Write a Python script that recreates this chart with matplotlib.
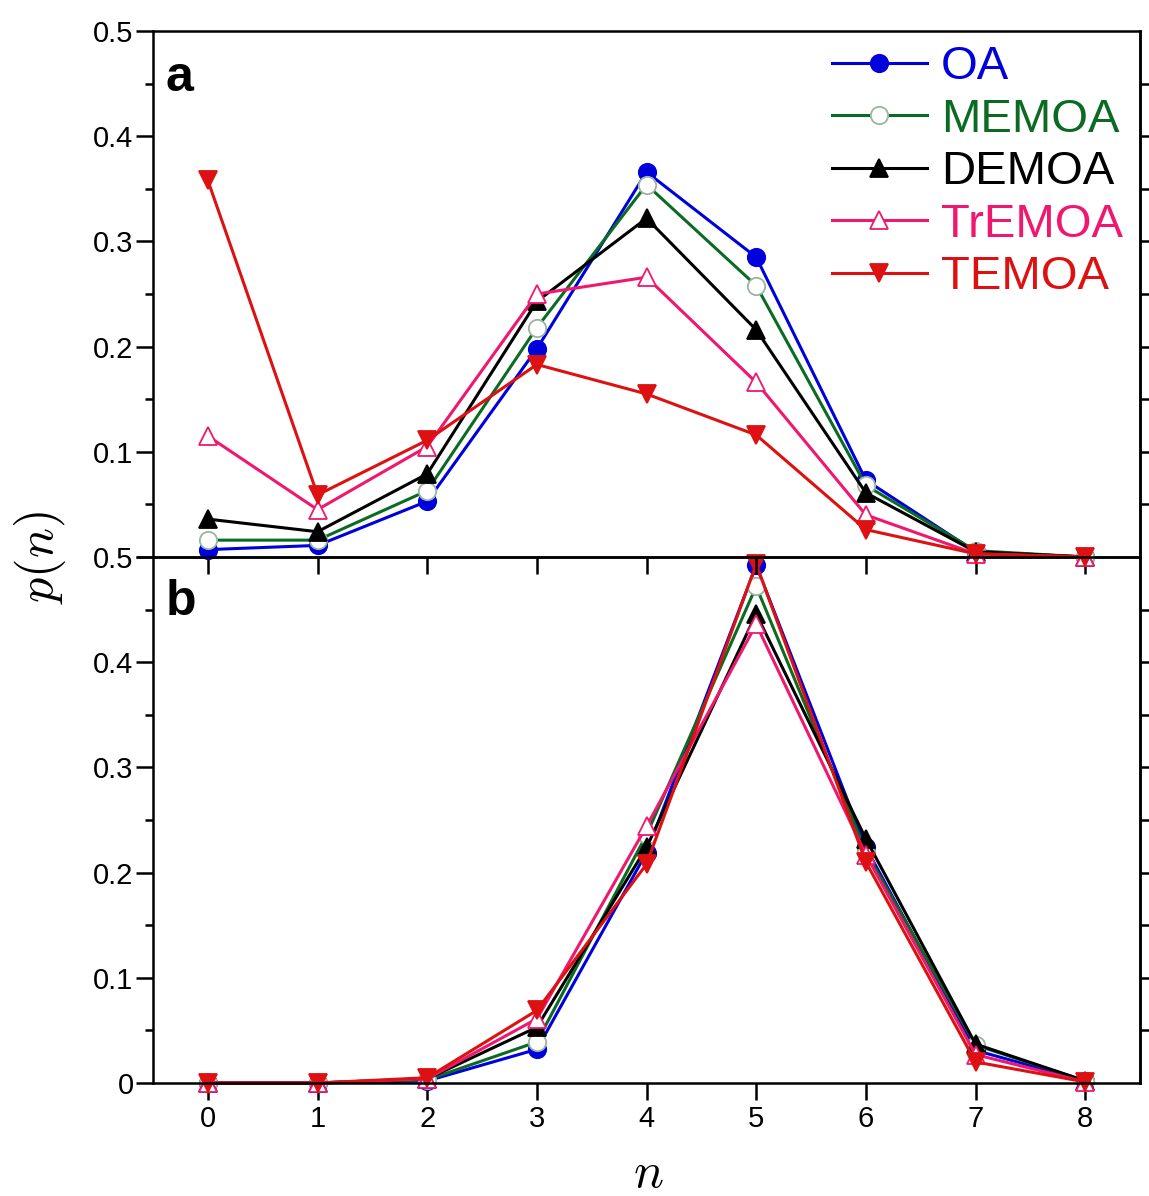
import numpy as np
import matplotlib
matplotlib.use('Agg')
import matplotlib.pyplot as plt

plt.rcParams['font.family'] = ['Liberation Sans', 'DejaVu Sans']
plt.rcParams['mathtext.fontset'] = 'cm'

n = [0, 1, 2, 3, 4, 5, 6, 7, 8]
labels = ['OA', 'MEMOA', 'DEMOA', 'TrEMOA', 'TEMOA']

# panel a
oa_a = [0.007, 0.011, 0.053, 0.198, 0.366, 0.285, 0.073, 0.005, 0.0]
memoa_a = [0.016, 0.016, 0.063, 0.218, 0.354, 0.258, 0.068, 0.006, 0.0]
demoa_a = [0.036, 0.024, 0.079, 0.243, 0.322, 0.216, 0.061, 0.005, 0.0]
tremoa_a = [0.115, 0.045, 0.105, 0.250, 0.266, 0.166, 0.040, 0.003, 0.0]
temoa_a = [0.358, 0.059, 0.111, 0.183, 0.155, 0.116, 0.026, 0.003, 0.0]

# panel b
oa_b = [0.0, 0.0, 0.002, 0.032, 0.219, 0.492, 0.224, 0.031, 0.002]
memoa_b = [0.0, 0.0, 0.003, 0.039, 0.236, 0.472, 0.220, 0.036, 0.002]
demoa_b = [0.0, 0.0, 0.004, 0.053, 0.224, 0.446, 0.232, 0.037, 0.002]
tremoa_b = [0.0, 0.0, 0.004, 0.061, 0.244, 0.436, 0.217, 0.027, 0.001]
temoa_b = [0.0, 0.0, 0.005, 0.069, 0.208, 0.493, 0.210, 0.020, 0.001]

styles = [
    dict(color='#0000dd', marker='o', mfc='#0000dd', mec='#0000dd'),
    dict(color='#0b6b22', marker='o', mfc='white', mec='#9ab59f'),
    dict(color='black', marker='^', mfc='black', mec='black'),
    dict(color='#f0186e', marker='^', mfc='white', mec='#f0186e'),
    dict(color='#dd1111', marker='v', mfc='#dd1111', mec='#dd1111'),
]

fig = plt.figure(figsize=(11.49, 11.96), dpi=100)
ax_b = fig.add_axes([0.1332, 0.0945, 0.8590, 0.4398])
ax_a = fig.add_axes([0.1332, 0.5343, 0.8590, 0.4397], sharex=ax_b)
ax_a.patch.set_visible(False)

def draw(ax, series):
    lines = []
    for s, lab, st in zip(series, labels, styles):
        ln, = ax.plot(n, s, lw=2.2, ms=12.5, mew=1.3, label=lab, clip_on=False, **st)
        lines.append(ln)
    ax.set_ylim(0, 0.5)
    ax.set_xlim(-0.5, 8.5)
    for sp in ax.spines.values():
        sp.set_linewidth(1.8)
    ax.set_yticks(np.arange(0, 0.51, 0.1))
    ax.set_yticks(np.arange(0, 0.51, 0.05), minor=True)
    ax.set_xticks(n)
    ax.tick_params(axis='y', which='major', direction='out', length=12, width=1.8,
                   labelsize=21, pad=2, right=False)
    ax.tick_params(axis='y', which='minor', direction='out', length=6, width=1.8, right=False)
    ax.tick_params(axis='x', direction='out', length=12, width=1.8, labelsize=21, top=False)
    # ticks on the right side
    sec = ax.secondary_yaxis('right')
    sec.set_yticks(np.arange(0.05, 0.5, 0.05))
    sec.set_yticklabels([])
    sec.tick_params(direction='out', length=8, width=1.8)
    sec.spines['right'].set_linewidth(1.8)
    return lines

def fmt(v):
    return '0' if v == 0 else '%.1f' % v

lines = draw(ax_a, [oa_a, memoa_a, demoa_a, tremoa_a, temoa_a])
draw(ax_b, [oa_b, memoa_b, demoa_b, tremoa_b, temoa_b])

ax_a.set_yticklabels([''] + [fmt(v) for v in np.arange(0.1, 0.51, 0.1)])
ax_b.set_yticklabels([fmt(v) for v in np.arange(0, 0.51, 0.1)])
ax_a.tick_params(axis='x', labelbottom=False)

leg = ax_a.legend(handles=lines, loc='upper left', bbox_to_anchor=(0.688, 0.973),
                  frameon=False, fontsize=34, handlelength=2.0, handletextpad=0.3,
                  labelspacing=0.18, borderpad=0, borderaxespad=0)
for txt, st in zip(leg.get_texts(), styles):
    txt.set_color(st['color'])

ax_a.text(0.013, 0.886, 'a', transform=ax_a.transAxes, fontsize=36,
          fontweight='bold', va='baseline')
ax_b.text(0.013, 0.890, 'b', transform=ax_b.transAxes, fontsize=36,
          fontweight='bold', va='baseline')

fig.text(0.035, 0.534, r'$p(n)$', rotation=90, fontsize=36, ha='center', va='center')
fig.text(0.564, 0.018, r'$n$', fontsize=36, ha='center', va='center')

fig.savefig('out.png', dpi=100)
